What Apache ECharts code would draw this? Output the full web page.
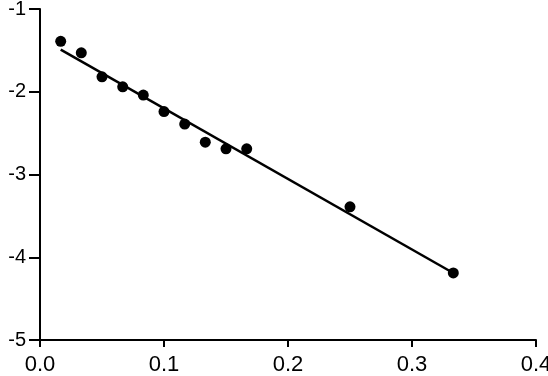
<!DOCTYPE html>
<html>
<head>
<meta charset="utf-8">
<script src="https://cdn.jsdelivr.net/npm/echarts@6/dist/echarts.min.js"></script>
<style>
	html, body { margin: 0; padding: 0; background: #fff; }
	#chart { width: 548px; height: 376px; }
</style>
</head>
<body>
<div id="chart"></div>
<script>
	// 测量点
	var timeVals = [0.0167, 0.0333, 0.05, 0.0667, 0.0833, 0.1, 0.1167, 0.1333, 0.15, 0.1667, 0.25, 0.3333];
	var lnVals = [-1.39, -1.53, -1.82, -1.94, -2.04, -2.24, -2.39, -2.61, -2.69, -2.69, -3.39, -4.19];
	// 拟合线两端
	var fitTime = [0.0167, 0.3333];
	var fitLn = [-1.49, -4.19];
	// 刻度
	var xTickVals = [0, 0.1, 0.2, 0.3, 0.4];
	var xTicks = ['0.0', '0.1', '0.2', '0.3', '0.4'];
	var yTickVals = [-5, -4, -3, -2, -1];
	var yTicks = ['-5', '-4', '-3', '-2', '-1'];

	var pts = timeVals.map(function(t, i) { return [t, lnVals[i]]; });
	var fitPts = fitTime.map(function(t, i) { return [t, fitLn[i]]; });

	var myChart = echarts.init(document.getElementById('chart'));
	var option = {
		animation: false,
		backgroundColor: '#fff',
		grid: { left: 40, right: 12, top: 9, bottom: 36, outerBoundsMode: 'none' },
		xAxis: {
			type: 'value', min: 0, max: 0.4, interval: 0.1,
			axisLine: { lineStyle: { color: '#000', width: 2 } },
			axisTick: { show: true, length: 7, lineStyle: { color: '#000', width: 2 } },
			splitLine: { show: false },
			axisLabel: { show: false }
		},
		yAxis: {
			type: 'value', min: -5, max: -1, interval: 1,
			axisLine: { lineStyle: { color: '#000', width: 2 } },
			axisTick: { show: true, length: 11, lineStyle: { color: '#000', width: 2 } },
			splitLine: { show: false },
			axisLabel: { show: false }
		},
		series: [{
			type: 'line',
			data: fitPts,
			symbol: 'none',
			lineStyle: { color: '#000', width: 2.5 },
			z: 2
		}, {
			type: 'scatter',
			data: pts,
			symbolSize: 11,
			itemStyle: { color: '#000', opacity: 1 },
			z: 3
		}]
	};
	myChart.setOption(option);

	// 刻度文字用 graphic 画，位置从坐标轴换算
	var labels = [];
	xTickVals.forEach(function(v, i) {
		var p = myChart.convertToPixel({ gridIndex: 0 }, [v, -5]);
		labels.push({
			type: 'text',
			x: p[0],
			y: p[1] + 14,
			style: { text: xTicks[i], fill: '#000', fontSize: 22, fontFamily: 'sans-serif', align: 'center', verticalAlign: 'top' }
		});
	});
	yTickVals.forEach(function(v, i) {
		var p = myChart.convertToPixel({ gridIndex: 0 }, [0, v]);
		labels.push({
			type: 'text',
			x: p[0] - 14,
			y: p[1],
			style: { text: yTicks[i], fill: '#000', fontSize: 20, fontFamily: 'sans-serif', align: 'right', verticalAlign: 'middle' }
		});
	});
	myChart.setOption({ graphic: labels });
</script>
</body>
</html>
